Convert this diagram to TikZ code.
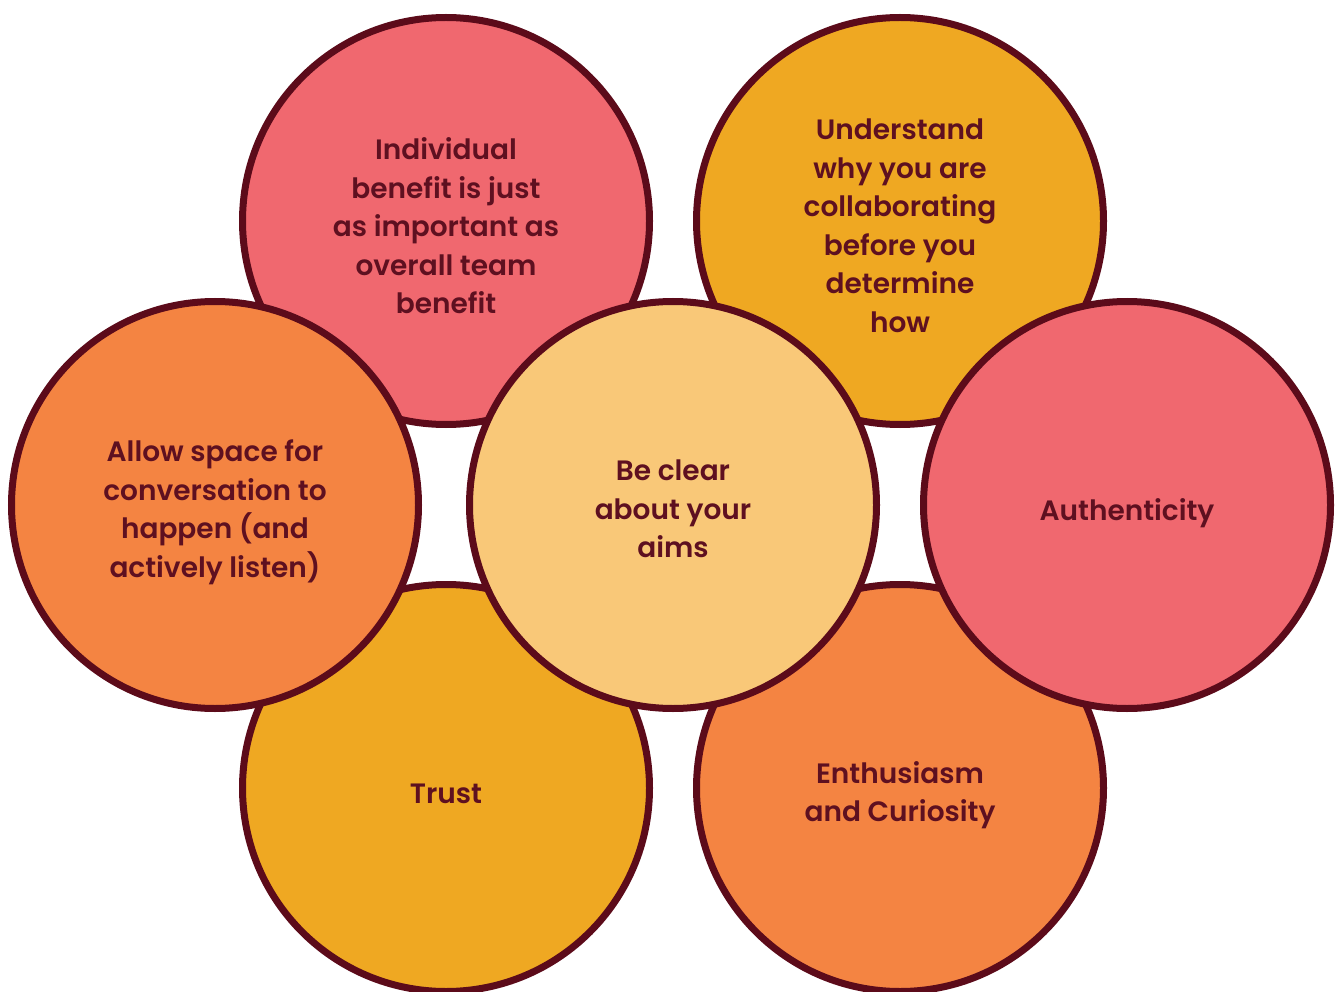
\documentclass[tikz,border=0pt]{standalone}
\usepackage{fontspec}
\setmainfont{Poppins}[UprightFont=* SemiBold]
\definecolor{rim}{HTML}{5C0B1A}
\definecolor{ink}{HTML}{5E1020}
\definecolor{rose}{HTML}{F0686F}
\definecolor{amber}{HTML}{EFA822}
\definecolor{tangerine}{HTML}{F48442}
\definecolor{sand}{HTML}{F9C878}
\begin{document}
\begin{tikzpicture}[x=1pt,y=-1pt,
  bubble/.style={circle,draw=rim,line width=7pt,minimum size=407pt,inner sep=0pt},
  label/.style={text=ink,align=center,font=\fontsize{28}{38.5}\selectfont}]
\useasboundingbox (0,0) rectangle (1338,992);
% outer ring, back to front
\node[bubble,fill=rose]      (tl) at (446,221) {};
\node[bubble,fill=amber]     (tr) at (900,221) {};
\node[bubble,fill=amber]     (bl) at (446,788) {};
\node[bubble,fill=tangerine] (br) at (900,788) {};
\node[bubble,fill=tangerine] (lf) at (215,505) {};
\node[bubble,fill=rose]      (rt) at (1127,505) {};
% centre on top
\node[bubble,fill=sand]      (cc) at (673,505) {};
% texts
\node[label] (ttl) at (446,226) {Individual\\benefit is just\\as important as\\overall team\\benefit};
\node[label] (ttr) at (900,226) {Understand\\why you are\\collaborating\\before you\\determine\\how};
\node[label] (tlf) at (215,512) {Allow space for\\conversation to\\happen (and\\actively listen)};
\node[label] (tcc) at (673,509) {Be clear\\about your\\aims};
\node[label] (trt) at (1127,513) {Authenticity};
\node[label] (tbl) at (446,794) {Trust};
\node[label] (tbr) at (900,795) {Enthusiasm\\and Curiosity};
\end{tikzpicture}
\end{document}
